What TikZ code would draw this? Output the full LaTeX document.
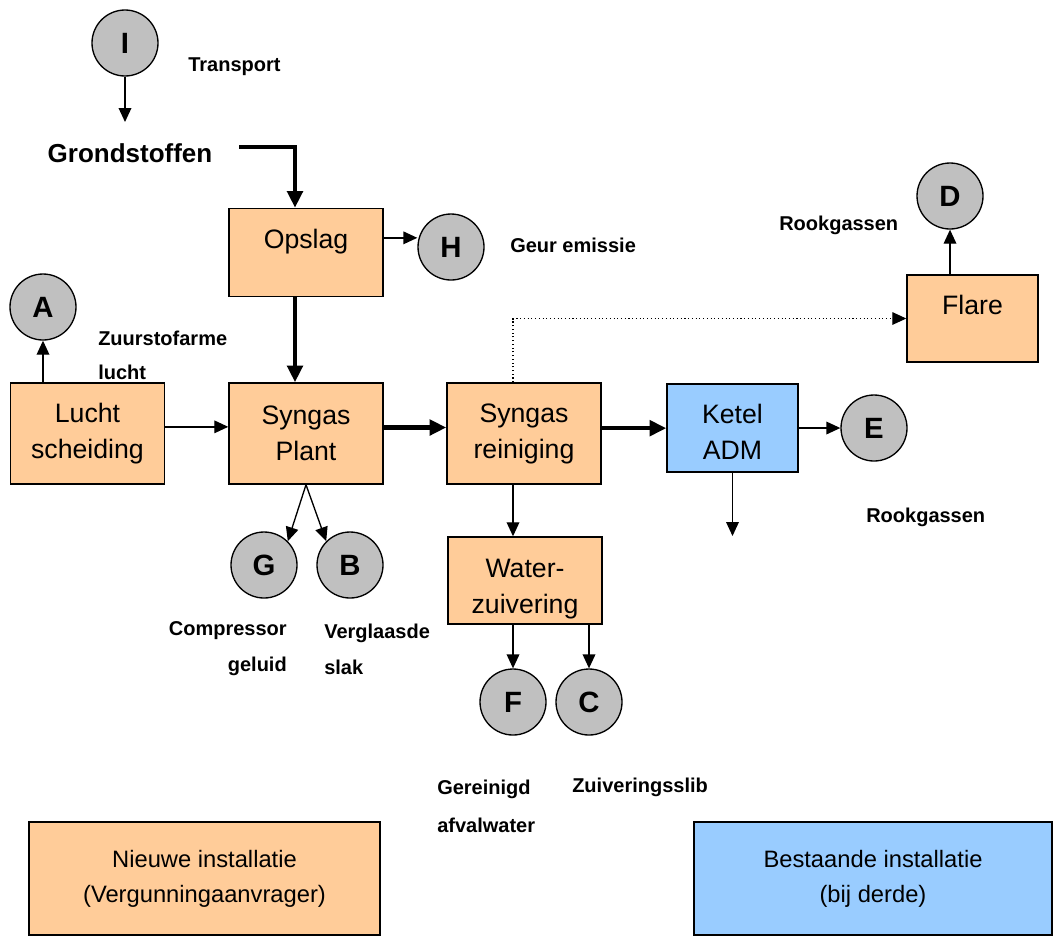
\documentclass[tikz,border=0pt]{standalone}
\usepackage{fontspec}
\setmainfont{Liberation Sans}
\usepackage{xcolor}
\usepackage{tikz}
\usetikzlibrary{shapes,arrows.meta,positioning,calc}
\definecolor{nieuw}{RGB}{255,204,153}
\definecolor{bestaand}{RGB}{153,204,255}
\definecolor{emgrey}{RGB}{192,192,192}
\tikzset{
    block/.style={rectangle, draw, line width=1.1pt, fill=nieuw, minimum width=115.5pt, minimum height=75.75pt, align=center, inner sep=0pt, font=\fontsize{20}{27}\selectfont},
    oldblock/.style={block, fill=bestaand},
    emission/.style={circle, draw, line width=1pt, fill=emgrey, minimum size=49.5pt, inner sep=0pt, font=\fontsize{22}{22}\selectfont\bfseries},
    line/.style={draw, line width=1pt, -{Triangle[length=10.5pt,width=9.5pt]}},
    thickline/.style={draw, line width=3.2pt, -{Triangle[length=12.5pt,width=11.5pt]}},
    tag/.style={inner sep=0pt, align=left, font=\fontsize{15}{25.5}\selectfont\bfseries},
    legend/.style={rectangle, draw, line width=1.1pt, minimum width=263.25pt, minimum height=84.75pt, align=center, inner sep=0pt, font=\fontsize{17.8}{26.25}\selectfont}
}

\begin{document}
\begin{tikzpicture}[x=0.75pt, y=-0.75pt]
    \useasboundingbox (0,0) rectangle (1062,936);

    % Installaties
    \node [emission] (I) at (125,43) {I};
    \node [inner sep=0pt, font=\fontsize{19.5}{20}\selectfont\bfseries] (grond) at (130,153) {Grondstoffen};
    \node [block, minimum height=66pt, text depth=20pt] (opslag) at (306,252.5) {Opslag};
    \node [block] (lucht) at (87.5,433.5) {Lucht\\scheiding};
    \node [block] (plant) at (306,433.5) {Syngas\\Plant};
    \node [block] (reiniging) at (524,433.5) {Syngas\\reiniging};
    \node [oldblock, minimum width=98.25pt, minimum height=66pt, text height=47.5pt] (ketel) at (732.5,428) {Ketel\\ADM};
    \node [block, minimum width=98.25pt, minimum height=65.25pt, text depth=20pt] (flare) at (972.5,318.5) {Flare};
    \node [block, minimum height=65.25pt, text height=53.5pt] (water) at (525,580.5) {Water-\\zuivering};
    \coordinate (grondin) at (125,122);
    \coordinate (ketelout) at (732.5,536);

    % Emissies
    \node [emission] (H) at (451,247) {H};
    \node [emission] (A) at (43,307) {A};
    \node [emission] (D) at (950,196) {D};
    \node [emission] (E) at (874,428) {E};
    \node [emission] (G) at (264,565) {G};
    \node [emission] (B) at (350,565) {B};
    \node [emission] (F) at (513,702) {F};
    \node [emission] (C) at (589,702) {C};

    % Toelichting
    \node [tag, anchor=west] (transport) at (188,67) {Transport};
    \node [tag, anchor=west] (geur) at (510,245) {Geur emissie};
    \node [tag, anchor=west] (zuurstof) at (98,355) {Zuurstofarme\\lucht};
    \node [tag, anchor=west] (rookD) at (779,225) {Rookgassen};
    \node [tag, anchor=west] (rookE) at (866,517) {Rookgassen};
    \node [tag, anchor=east, align=right, font=\fontsize{15}{27}\selectfont\bfseries] (geluid) at (287,649) {Compressor\\geluid};
    \node [tag, anchor=west, font=\fontsize{15}{27}\selectfont\bfseries] (slak) at (324,649) {Verglaasde\\slak};
    \node [tag, anchor=west, font=\fontsize{15}{28.5}\selectfont\bfseries] (afvalwater) at (437,806) {Gereinigd\\afvalwater};
    \node [tag, anchor=west] (slib) at (572,787) {Zuiveringsslib};

    % Legenda
    \node [legend, fill=nieuw] (nieuwlegend) at (204.5,878.5) {Nieuwe installatie\\(Vergunningaanvrager)};
    \node [legend, fill=bestaand, minimum width=268.5pt] (oudlegend) at (873,878.5) {Bestaande installatie\\(bij derde)};

    % Hoofdstroom
    \path [thickline] ([shift={(20pt,4.5pt)}]grond.east) -| ($(opslag.north)+(-11,0)$);
    \path [thickline] ($(opslag.south)+(-11,0)$) -- ($(plant.north)+(-11,0)$);
    \path [thickline] ([yshift=4.5pt]plant.east) -- ([yshift=4.5pt]plant.east -| reiniging.west);
    \path [thickline] ([yshift=4pt]reiniging.east) -- ([yshift=4pt]reiniging.east -| ketel.west);

    % Overige stromen
    \path [line] (I) -- (grondin);
    \path [line] ([yshift=11pt]opslag.east) -- ([yshift=11pt]opslag.east -| H.west);
    \path [line] ([yshift=5pt]lucht.east) -- ([yshift=5pt]lucht.east -| plant.west);
    \path [line] (lucht.north -| A) -- (A);
    \path [line] (plant.south) -- (G.north east);
    \path [line] (plant.south) -- (B.north west);
    \path [line] ($(reiniging.south)+(-11,0)$) -- ($(water.north)+(-12,0)$);
    \path [line] (water.south -| F) -- (F);
    \path [line] (water.south -| C) -- (C);
    \path [line] (ketel) -- (E);
    \path [line] (ketel.south) -- (ketelout);
    \path [line] (flare.north -| D) -- (D);
    \path [line, line width=0.8pt, dotted] ($(reiniging.north)+(-11,0)$) |- (flare.west);
\end{tikzpicture}
\end{document}
